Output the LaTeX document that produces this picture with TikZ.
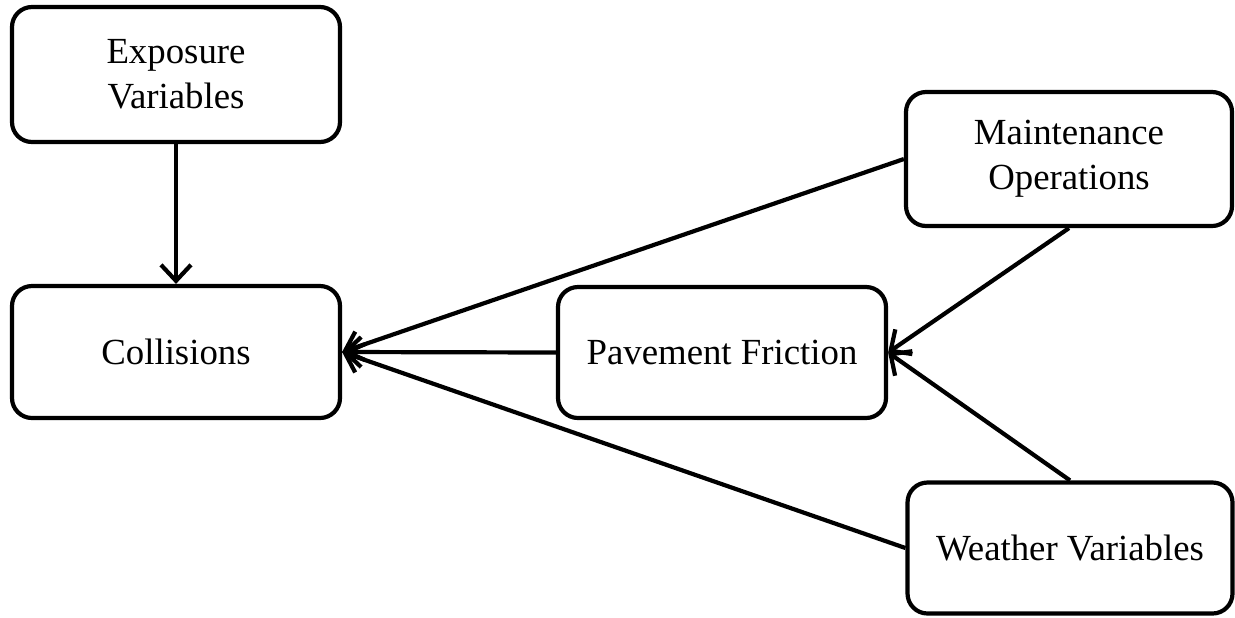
\documentclass[tikz,border=0pt]{standalone}
\usepackage{fontspec}
\setmainfont{Liberation Serif}
\usetikzlibrary{arrows.meta}
\begin{document}
\begin{tikzpicture}[x=1pt,y=1pt,
  box/.style={draw=black, line width=2.1pt, rounded corners=10pt, fill=white,
    align=center, inner sep=0pt, font=\fontsize{18.4}{22.5}\selectfont},
  conn/.style={line width=2.1pt, -{Straight Barb[length=8pt,width=15pt,line width=2.1pt]}}]
\useasboundingbox (0,0) rectangle (617.5,-308.5);
\node[box, minimum width=164pt, minimum height=67.5pt] (exp) at (88,-37.25) {Exposure\\Variables};
\node[box, minimum width=164pt, minimum height=66pt] (col) at (88,-176) {Collisions};
\node[box, minimum width=164pt, minimum height=65.5pt] (pav) at (361,-176.25) {Pavement Friction};
\node[box, minimum width=163pt, minimum height=67pt] (mai) at (534.5,-79.5) {Maintenance\\Operations};
\node[box, minimum width=162.5pt, minimum height=65.5pt] (wea) at (535,-274) {Weather Variables};
\draw[conn] (exp.south) -- (col.north);
\draw[conn] (mai.west) -- (col.east);
\draw[conn] (pav.west) -- (col.east);
\draw[conn] (wea.west) -- (col.east);
\draw[conn] (mai.south) -- (pav.east);
\draw[conn] (wea.north) -- (pav.east);
\end{tikzpicture}
\end{document}
